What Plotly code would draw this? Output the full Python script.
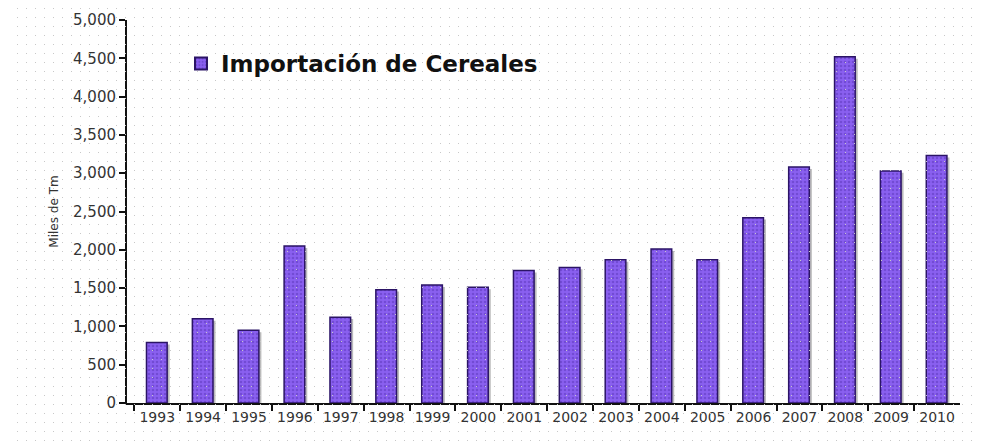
import plotly.graph_objects as go

years = ["1993", "1994", "1995", "1996", "1997", "1998", "1999", "2000", "2001",
         "2002", "2003", "2004", "2005", "2006", "2007", "2008", "2009", "2010"]
imports = [790, 1100, 950, 2050, 1120, 1480, 1540, 1510, 1730,
           1770, 1870, 2010, 1870, 2420, 3080, 4520, 3030, 3230]
series_name = "Importación de Cereales"
y_title = "Miles de Tm"
y_ticks = [0, 500, 1000, 1500, 2000, 2500, 3000, 3500, 4000, 4500, 5000]

# page body has an 8px margin, so the figure is sized to fit the window
OFF = 8
W, H = 984 - OFF, 442 - OFF
font_family = "DejaVu Sans"


def px_x(p):
    return (p - OFF) / W


def px_y(p):
    return 1 - (p - OFF) / H


fig = go.Figure()

# background dot lattice (decoration on a full-page invisible axis pair)
fig.add_trace(go.Scatter(x=[None], y=[None], xaxis="x2", yaxis="y2",
                         showlegend=False, hoverinfo="skip"))

# soft shadow behind bars
fig.add_trace(go.Bar(
    x=years, y=imports, base=-25, width=0.47, offset=-0.2,
    marker=dict(color="rgba(60,60,60,0.35)", line=dict(width=0)),
    showlegend=False, hoverinfo="skip",
))

fig.add_trace(go.Bar(
    x=years, y=imports, name=series_name, width=0.45, offset=-0.235,
    marker=dict(
        color="#7a4fe4",
        line=dict(color="#2b1466", width=1.5),
        pattern=dict(shape=".", fgcolor="#5a35b8", bgcolor="#8a60f0",
                     size=4, solidity=0.35),
    ),
))

fig.update_layout(
    width=W, height=H,
    margin=dict(l=0, r=0, t=0, b=0, autoexpand=False),
    paper_bgcolor="white", plot_bgcolor="rgba(0,0,0,0)",
    barmode="overlay",
    font=dict(family=font_family, color="#333333"),
    showlegend=True,
    legend=dict(x=px_x(181), y=px_y(42), xanchor="left", yanchor="top",
                bgcolor="rgba(0,0,0,0)",
                font=dict(size=23, color="#111111", family=font_family, weight="bold"),
                itemsizing="constant"),
    xaxis=dict(
        domain=[px_x(127), px_x(960)], range=[-0.66, 17.5], automargin=False,
        type="category", showgrid=False, showline=True,
        linecolor="#111111", linewidth=2,
        ticks="outside", tickson="boundaries", ticklen=6, tickcolor="#111111",
        tickwidth=2,
        tickfont=dict(size=14, color="#333333", family="Liberation Sans Narrow, " + font_family),
        zeroline=False,
    ),
    yaxis=dict(
        domain=[px_y(403), px_y(20)], range=[0, 5000], automargin=False,
        tickvals=y_ticks, tickformat=",d",
        showgrid=False, showline=True, linecolor="#111111", linewidth=2,
        ticks="outside", ticklen=6, tickcolor="#111111", tickwidth=2,
        tickfont=dict(size=15, color="#333333"),
        title=dict(text=y_title, font=dict(size=12, color="#333333"), standoff=12),
        zeroline=False,
    ),
    xaxis2=dict(domain=[0, 1], range=[0, W], dtick=9, tick0=0, automargin=False,
                showgrid=True, gridcolor="#c8c8c8", gridwidth=1,
                griddash="1px,8px", showticklabels=False, zeroline=False,
                fixedrange=True, layer="below traces", anchor="y2"),
    yaxis2=dict(domain=[0, 1], range=[0, H], dtick=9, tick0=0, automargin=False,
                showgrid=False, showticklabels=False, zeroline=False,
                fixedrange=True, anchor="x2"),
)

fig.write_html("out.html")
